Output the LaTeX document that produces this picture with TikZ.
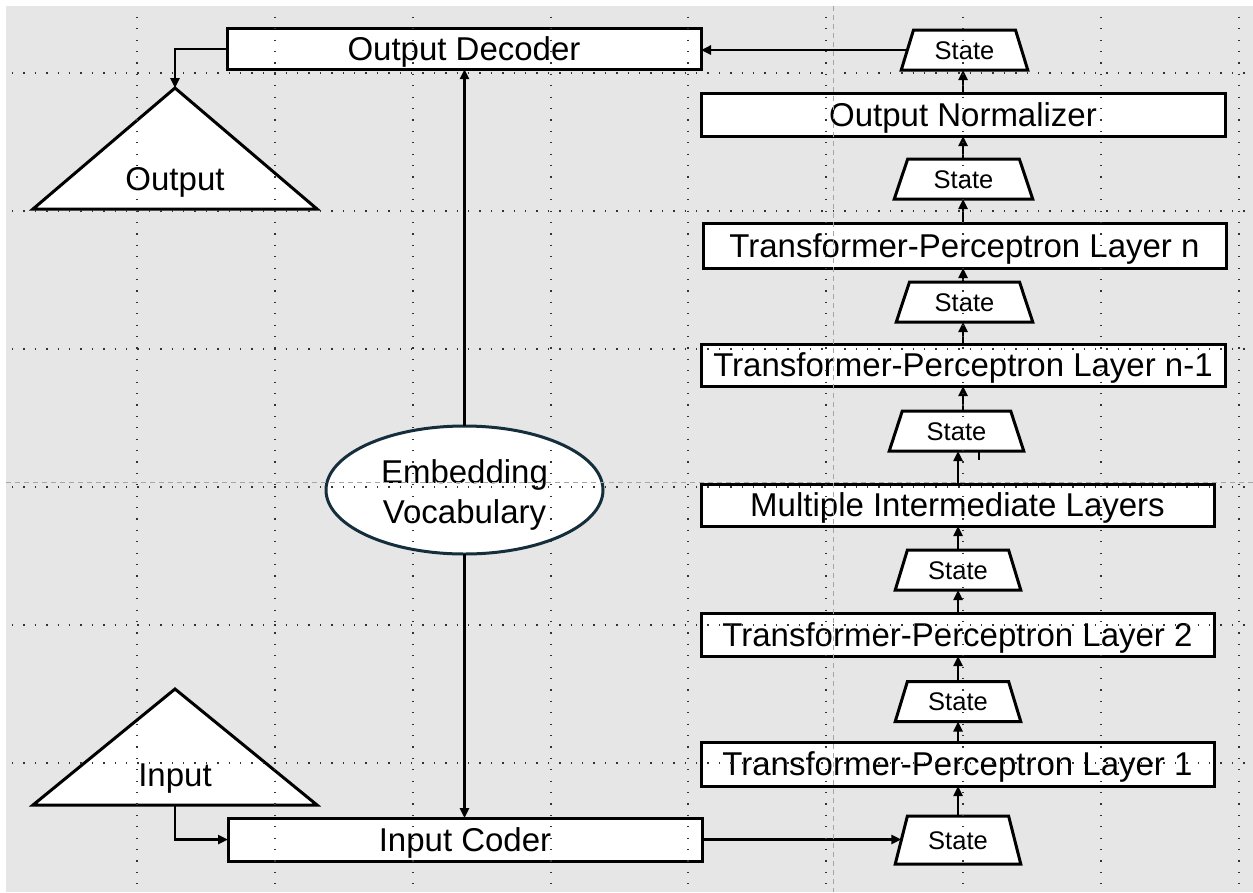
\documentclass[tikz,border=0pt]{standalone}
\usepackage{fontspec}
\setmainfont{Liberation Sans}
\usetikzlibrary{arrows.meta,shapes.geometric}
\definecolor{canvas}{RGB}{230,230,230}
\definecolor{ellline}{RGB}{20,46,60}
\begin{document}
\begin{tikzpicture}[x=1pt,y=-1pt,
  every node/.style={inner sep=0pt, outer sep=0pt},
  labeltext/.style={font=\fontsize{33}{41}\selectfont, text height=31.9pt, text depth=8.25pt},
  block/.style={labeltext, draw, line width=3pt, fill=white},
  statebox/.style={trapezium, trapezium stretches=true,
    trapezium left angle=77, trapezium right angle=77,
    draw, line width=3pt, fill=white, minimum height=40pt,
    font=\fontsize{25.5}{30}\selectfont, text height=24.6pt, text depth=6.4pt},
  tri/.style={draw, line width=3pt, fill=white},
  arr/.style={line width=2.4pt, -{Triangle[length=10pt,width=9pt]}},
  griddots/.style={line width=1.3pt, dash pattern=on 1.3pt off 10.1pt, color=black!80},
  guide/.style={line width=1pt, dash pattern=on 5pt off 4pt, color=black!35}]

% page and canvas
\fill[white] (0,0) rectangle (1253,892);
\useasboundingbox (0,0) rectangle (1253,892);
\fill[canvas] (6,6) rectangle (1253,892);

% left column
\node[block, minimum width=474pt, minimum height=40pt] (dec) at (464,49) {Output Decoder};
\node[block, minimum width=474pt, minimum height=43pt] (inc) at (465,839.5) {Input Coder};
\node[draw=ellline, line width=3pt, fill=white, ellipse, minimum width=277pt, minimum height=128pt,
      align=center, font=\fontsize{33}{40}\selectfont] (ell) at (464.5,490)
      {\rule{0pt}{1em}Embedding\\Vocabulary};

% output triangle
\coordinate (otop) at (175,88);
\coordinate (obl) at (33,209);
\coordinate (obr) at (317,209);
\draw[tri] (obl) -- (otop) -- (obr) -- cycle;
\node[labeltext] (otext) at (175,179) {Output};

% input triangle
\coordinate (itop) at (175,689);
\coordinate (ibl) at (33,805);
\coordinate (ibr) at (317,805);
\coordinate (ibase) at (175,805);
\draw[tri] (ibl) -- (itop) -- (ibr) -- cycle;
\node[labeltext] (itext) at (175,775) {Input};

% layer stack
\node[block, minimum width=524pt, minimum height=43pt] (norm) at (963,114.5) {Output Normalizer};
\node[block, minimum width=523pt, minimum height=45pt] (ln) at (964.5,245.5) {Transformer-Perceptron Layer n};
\node[block, minimum width=524pt, minimum height=42pt] (ln1) at (963,365) {Transformer-Perceptron Layer n-1};
\node[block, minimum width=513pt, minimum height=42pt] (mil) at (957.5,505) {Multiple Intermediate Layers};
\node[block, minimum width=513pt, minimum height=43pt] (l2) at (957.5,634.5) {Transformer-Perceptron Layer 2};
\node[block, minimum width=513pt, minimum height=44pt] (l1) at (957.5,764) {Transformer-Perceptron Layer 1};

\node[statebox, minimum width=127pt] (s7) at (964.5,50) {State};
\node[statebox, minimum width=139pt] (s6) at (963.5,179) {State};
\node[statebox, minimum width=137pt] (s5) at (964.5,302) {State};
\node[statebox, minimum width=135pt] (s4) at (956.5,431) {State};
\node[statebox, minimum width=126pt] (s3) at (958,570) {State};
\node[statebox, minimum width=126pt] (s2) at (958,701.5) {State};
\node[statebox, minimum width=126pt, minimum height=48pt] (s1) at (958,840) {State};

% connectors
\draw[arr] (dec.west) -| (otop);
\draw[arr] (ibase) |- (inc.west);
\draw[arr] (ell.north) -- (ell.north |- dec.south);
\draw[arr] (ell.south) -- (ell.south |- inc.north);
\draw[arr] (inc.east) -- (s1.west |- inc.east);
\draw[arr] (s1.north) -- (s1.north |- l1.south);
\draw[arr] (s1.north |- l1.north) -- (s2.south);
\draw[arr] (s2.north) -- (s2.north |- l2.south);
\draw[arr] (s2.north |- l2.north) -- (s3.south);
\draw[arr] (s3.north) -- (s3.north |- mil.south);
\draw[arr] (s3.north |- mil.north) -- (s3.north |- s4.south);
\draw[line width=2.4pt] (s4.south) ++(22.5,0) -- ++(0,9);
\draw[arr] (ln1.south |- s4.north) -- (ln1.south);
\draw[arr] (ln1.north) -- (ln1.north |- s5.south);
\draw[arr] (ln1.north |- s5.north) -- (ln1.north |- ln.south);
\draw[arr] (ln1.north |- ln.north) -- (ln1.north |- s6.south);
\draw[arr] (ln1.north |- s6.north) -- (norm.south);
\draw[arr] (norm.north) -- (norm.north |- s7.south);
\draw[arr] (s7.west) -- (dec.east |- s7.west);

% layout grid on top
\foreach \gx in {137,275,413,551,688,826,963,1101,1239}
  \draw[griddots] (\gx,16.7) -- (\gx,892);
\foreach \gy in {73,211,349,487,625,763}
  \draw[griddots] (12,\gy) -- (1253,\gy);
\draw[guide] (833,6) -- (833,892);
\draw[guide] (6,482) -- (1253,482);
\end{tikzpicture}
\end{document}
